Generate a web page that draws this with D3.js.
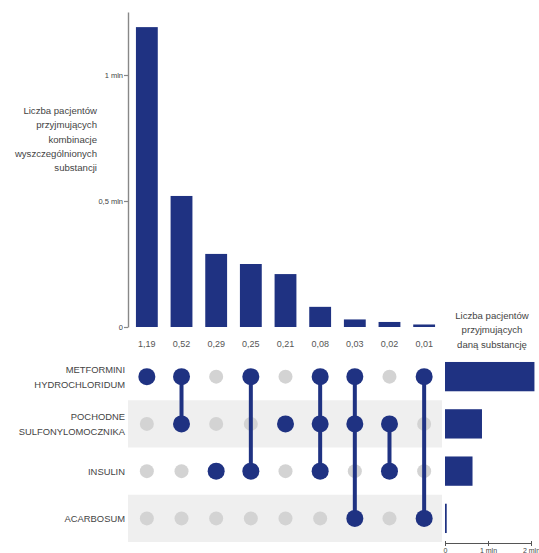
<!DOCTYPE html>
<html>
<head>
<meta charset="utf-8">
<script src="https://cdn.jsdelivr.net/npm/d3@7"></script>
<style>
  html, body { margin: 0; padding: 0; background: #fff; }
  svg { display: block; font-family: "Liberation Sans", Arial, Helvetica, sans-serif; }
</style>
</head>
<body>
<svg id="chart" width="539" height="553"></svg>
<script>
// Substances (matrix rows), two-line labels
const setNames = ["METFORMINI HYDROCHLORIDUM", "POCHODNE SULFONYLOMOCZNIKA", "INSULIN", "ACARBOSUM"];
const setLabelLines = [["METFORMINI", "HYDROCHLORIDUM"], ["POCHODNE", "SULFONYLOMOCZNIKA"], ["INSULIN"], ["ACARBOSUM"]];

// Combinations of substances (indexes into setNames) and patients per combination, in millions
const combos = [[0], [0, 1], [2], [0, 2], [1], [0, 1, 2], [0, 1, 3], [1, 2], [0, 3]];
const comboValues = [1.19, 0.52, 0.29, 0.25, 0.21, 0.08, 0.03, 0.02, 0.01];

// Patients taking each substance, in millions
const setTotals = [2.08, 0.86, 0.64, 0.04];

const topTicks = [0, 0.5, 1];
const sideTicks = [0, 1, 2];

const navy = "#1f3282";
const dotGrey = "#d3d3d3";
const bandGrey = "#efefef";
const textGrey = "#444";

const fmtVal = d3.format(".2f");
const comma = s => s.replace(".", ",");
const mln = d => d === 0 ? "0" : comma(String(d)) + " mln";

const svg = d3.select("#chart");

// Column scale shared by the bars and the matrix
const x = d3.scaleBand()
  .domain(d3.range(combos.length))
  .range([129, 442])
  .paddingInner(0.37)
  .paddingOuter(0.2);

const y = d3.scaleLinear().domain([0, 1.25]).range([327, 12]);

const row = d3.scaleBand().domain(d3.range(setNames.length)).range([353, 542]);

// ---- combination bars
svg.append("g").selectAll("rect")
  .data(comboValues)
  .join("rect")
  .attr("x", (d, i) => x(i))
  .attr("width", x.bandwidth())
  .attr("y", d => y(d))
  .attr("height", d => y(0) - y(d))
  .attr("fill", navy);

const yAxis = svg.append("g")
  .attr("transform", "translate(128,0)")
  .call(d3.axisLeft(y).tickValues(topTicks).tickFormat(mln).tickSize(4).tickSizeOuter(0));
yAxis.select(".domain").attr("stroke", "#888").attr("stroke-width", 1.4);
yAxis.selectAll(".tick line").attr("stroke", "#888").attr("stroke-width", 1.2);
yAxis.selectAll(".tick text").attr("fill", textGrey).attr("font-size", 7.5).attr("x", -5);

// value labels under bars
svg.append("g").selectAll("text")
  .data(comboValues)
  .join("text")
  .attr("x", (d, i) => x(i) + x.bandwidth() / 2)
  .attr("y", 347)
  .attr("text-anchor", "middle")
  .attr("font-size", 9)
  .attr("fill", "#555")
  .text(d => comma(fmtVal(d)));

// left title
const titleLines = ["Liczba pacjentów", "przyjmujących", "kombinacje", "wyszczególnionych", "substancji"];
svg.append("text")
  .attr("text-anchor", "end")
  .attr("font-size", 9.6)
  .attr("fill", textGrey)
  .selectAll("tspan")
  .data(titleLines)
  .join("tspan")
  .attr("x", 97)
  .attr("y", (d, i) => 114 + i * 14.3)
  .text(d => d);

// ---- matrix
svg.append("g").selectAll("rect")
  .data(d3.range(setNames.length).filter(i => i % 2 === 1))
  .join("rect")
  .attr("x", 128)
  .attr("width", 442 - 128)
  .attr("y", i => row(i))
  .attr("height", row.bandwidth())
  .attr("fill", bandGrey);

const cy = i => row(i) + row.bandwidth() / 2;
const cx = i => x(i) + x.bandwidth() / 2;

// grey dots for every cell
const cells = [];
combos.forEach((c, ci) => setNames.forEach((s, si) => cells.push({ ci, si, on: c.includes(si) })));

svg.append("g").selectAll("circle")
  .data(cells.filter(d => !d.on))
  .join("circle")
  .attr("cx", d => cx(d.ci))
  .attr("cy", d => cy(d.si))
  .attr("r", 7)
  .attr("fill", dotGrey);

// connecting lines
svg.append("g").selectAll("line")
  .data(combos.map((c, ci) => ({ ci, lo: d3.min(c), hi: d3.max(c) })).filter(d => d.hi > d.lo))
  .join("line")
  .attr("x1", d => cx(d.ci))
  .attr("x2", d => cx(d.ci))
  .attr("y1", d => cy(d.lo))
  .attr("y2", d => cy(d.hi))
  .attr("stroke", navy)
  .attr("stroke-width", 4);

svg.append("g").selectAll("circle")
  .data(cells.filter(d => d.on))
  .join("circle")
  .attr("cx", d => cx(d.ci))
  .attr("cy", d => cy(d.si))
  .attr("r", 8.5)
  .attr("fill", navy);

// row labels
svg.append("g").selectAll("text")
  .data(setLabelLines)
  .join("text")
  .attr("text-anchor", "end")
  .attr("font-size", 9.4)
  .attr("fill", textGrey)
  .each(function (lines, i) {
    d3.select(this).selectAll("tspan")
      .data(lines)
      .join("tspan")
      .attr("x", 125)
      .attr("y", (d, k) => cy(i) + 3.5 + (k - (lines.length - 1) / 2) * 15)
      .text(d => d);
  });

// ---- per-substance totals
const xs = d3.scaleLinear().domain([0, 2]).range([445, 531]);
const rowBar = d3.scaleBand().domain(d3.range(setNames.length)).range([353, 542]).paddingInner(0.38).paddingOuter(0.19);

svg.append("g").selectAll("rect")
  .data(setTotals)
  .join("rect")
  .attr("x", xs(0))
  .attr("width", d => xs(d) - xs(0))
  .attr("y", (d, i) => rowBar(i))
  .attr("height", rowBar.bandwidth())
  .attr("fill", navy);

const xAxis = svg.append("g")
  .attr("transform", "translate(0,543)")
  .call(d3.axisBottom(xs).tickValues(sideTicks).tickFormat(mln).tickSize(3).tickSizeOuter(0));
xAxis.select(".domain").attr("stroke", "#555");
xAxis.selectAll(".tick line").attr("stroke", "#555").attr("y1", -2);
xAxis.selectAll(".tick text")
  .attr("fill", textGrey)
  .attr("font-size", 7)
  .attr("dy", null)
  .attr("y", 9.5);

const sideTitle = ["Liczba pacjentów", "przyjmujących", "daną substancję"];
svg.append("text")
  .attr("text-anchor", "middle")
  .attr("font-size", 9.6)
  .attr("fill", textGrey)
  .selectAll("tspan")
  .data(sideTitle)
  .join("tspan")
  .attr("x", 492)
  .attr("y", (d, i) => 319 + i * 14.3)
  .text(d => d);
</script>
</body>
</html>
